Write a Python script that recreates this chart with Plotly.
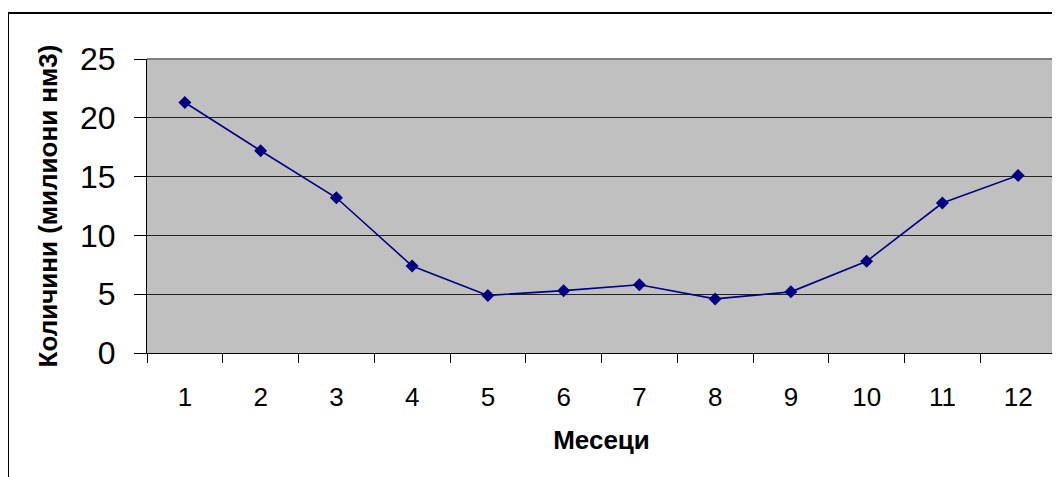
import plotly.graph_objects as go

months = ["1", "2", "3", "4", "5", "6", "7", "8", "9", "10", "11", "12"]
values = [21.3, 17.2, 13.2, 7.4, 4.9, 5.3, 5.8, 4.6, 5.2, 7.8, 12.75, 15.1]
y_ticks = [0, 5, 10, 15, 20, 25]

x_title = "Месеци"
y_title = "Количини (милиони нм3)"

FONT = "Liberation Sans, Arial, sans-serif"

fig = go.Figure()
fig.add_trace(go.Scatter(
    x=months, y=values, mode="lines+markers",
    line=dict(color="#000080", width=1.6),
    marker=dict(symbol="diamond", size=10, color="#000080"),
    showlegend=False,
))

fig.update_layout(
    width=1052, height=469,
    margin=dict(l=139, r=4, t=51, b=124),
    paper_bgcolor="white",
    plot_bgcolor="#C0C0C0",
    font=dict(family=FONT, color="black"),
    xaxis=dict(
        type="category",
        range=[-0.5, 11.5],
        tickson="boundaries",
        ticks="outside", ticklen=9, tickcolor="black", tickwidth=1,
        showline=True, linecolor="black", linewidth=1,
        showgrid=False, zeroline=False,
        tickfont=dict(size=26),
        ticklabelstandoff=21,
        automargin=False,
        title=dict(text=x_title, font=dict(size=26, family=FONT, weight="bold"), standoff=19),
    ),
    yaxis=dict(
        range=[0, 25], tickvals=y_ticks,
        ticks="outside", ticklen=12, tickcolor="black", tickwidth=1,
        showline=True, linecolor="black", linewidth=1,
        showgrid=True, gridcolor="#222222", gridwidth=1,
        zeroline=False,
        tickfont=dict(size=32),
        ticklabelstandoff=12,
        automargin=False,
        title=dict(text=y_title, font=dict(size=26, family=FONT, weight="bold"), standoff=14),
    ),
    shapes=[
        # gray top & right border of plot area
        dict(type="line", xref="paper", yref="paper", x0=0, x1=1, y0=1, y1=1,
             line=dict(color="#808080", width=2), layer="above"),
        dict(type="line", xref="paper", yref="paper", x0=1, x1=1, y0=0, y1=1,
             line=dict(color="#808080", width=2), layer="above"),
        # outer chart border (extends past the right and bottom edges)
        dict(type="line", xref="paper", yref="paper",
             x0=(8 - 147) / 909, x1=1.02, y0=(353 - 13) / 294, y1=(353 - 13) / 294,
             line=dict(color="black", width=2)),
        dict(type="line", xref="paper", yref="paper",
             x0=(8 - 147) / 909, x1=(8 - 147) / 909, y0=(353 - 13) / 294, y1=-0.6,
             line=dict(color="black", width=2)),
    ],
)

fig.write_html("out.html")
